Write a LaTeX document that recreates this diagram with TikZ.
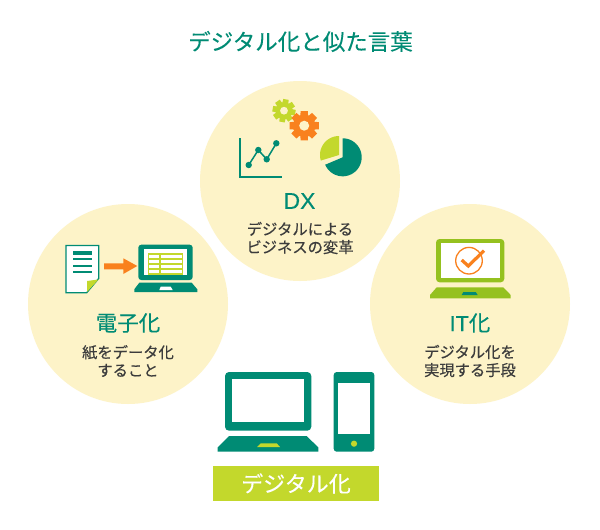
\documentclass[tikz,border=0pt]{standalone}
\usepackage{fontspec}
\setmainfont{Noto Sans CJK JP}
\newfontfamily\jpmed[FakeBold=0.45]{Noto Sans CJK JP}
\newfontfamily\jphead[FakeBold=0.2]{Noto Sans CJK JP}
\newfontfamily\latinhead[FakeBold=0.15]{Liberation Sans}
\definecolor{teal1}{HTML}{008B74}
\definecolor{lime1}{HTML}{C3D82C}
\definecolor{green1}{HTML}{95C11F}
\definecolor{orange1}{HTML}{F9811E}
\definecolor{cream1}{HTML}{FDF3C8}
\definecolor{text1}{HTML}{3C3C3C}
\newcommand{\gearicon}[8]{%
  \begin{scope}[shift={(#1,#2)}]
    \fill[#6] (0,0) circle[radius=#4pt];
    \foreach \k in {1,...,#7} {
      \pgfmathsetmacro{\a}{#8+360*\k/#7}
      \pgfmathsetmacro{\wi}{170/#7}
      \pgfmathsetmacro{\wo}{110/#7}
      \fill[#6] (\a-\wi:#4-0.5) -- (\a-\wo:#3) -- (\a+\wo:#3) -- (\a+\wi:#4-0.5) -- cycle;
    }
    \fill[cream1] (0,0) circle[radius=#5pt];
  \end{scope}}
\tikzset{
  x=1pt,y=-1pt,
  blob/.style={circle,fill=cream1,minimum size=200pt,inner sep=0pt},
  heading/.style={text=teal1,font=\fontsize{21.5}{24}\jphead,inner sep=0pt},
  small/.style={text=text1,font=\fontsize{15.3}{18}\jpmed,align=center,inner sep=0pt},
  title/.style={text=teal1,font=\fontsize{22.5}{26}\jphead,inner sep=0pt},
}
\begin{document}
\begin{tikzpicture}
\useasboundingbox[fill=white] (0,0) rectangle (600,530);
\node[blob] (top) at (300,181) {};
\node[blob] (left) at (128,304) {};
\node[blob] (right) at (470,304) {};
\node[title] (ttl) at (300.5,41.5) {デジタル化と似た言葉};
% top circle icons
\draw[teal1,line width=1.4pt] (240,138) -- (240,176.8) -- (282,176.8);
\draw[teal1,line width=1.5pt] (248.7,165) -- (258.3,150) -- (266.7,159.3) -- (276.3,143.3);
\foreach \p in {(248.7,165),(258.3,150),(266.7,159.3),(276.3,143.3)} \fill[teal1] \p circle[radius=3.2pt];
\gearicon{284}{110.7}{11.8}{8.6}{3.9}{lime1}{8}{10}
\gearicon{304.2}{125.7}{15}{11.2}{5}{orange1}{8}{0}
\fill[teal1] (342.7,157.3) -- plot[domain=90:-157,samples=50] ({342.7+19*cos(\x)},{157.3-19*sin(\x)}) -- cycle;
\fill[lime1] (339,155) -- plot[domain=90:197,samples=30] ({339+19*cos(\x)},{155-19*sin(\x)}) -- cycle;
\node[text=teal1,font=\fontsize{23}{26}\latinhead,inner sep=0pt] (dx) at (299.5,201) {DX};
\node[small] (dxt) at (300,238) {デジタルによる\\ビジネスの変革};
% left circle icons
\draw[teal1,fill=white,line width=1.3pt] (65.9,245.5) -- (98.8,245.5) -- (98.8,278.3) -- (86.7,292.7) -- (65.9,292.7) -- cycle;
\fill[lime1] (98.4,279.5) -- (87,292) -- (87,281) -- cycle;
\fill[teal1] (72.7,250.7) rectangle (92.3,255);
\foreach \yy in {259.3,265.7,272.3} \fill[teal1] (72.7,\yy-1) rectangle (92.3,\yy+1);
\fill[orange1] (104,263.3) -- (123.3,263.3) -- (123.3,258.3) -- (137.3,266) -- (123.3,274) -- (123.3,269.3) -- (104,269.3) -- cycle;
\fill[teal1,rounded corners=3pt] (138.3,244.7) rectangle (192.7,280);
\fill[white] (144,249) rectangle (186.7,275);
\draw[lime1,line width=1.1pt] (148.7,254) rectangle (182.7,274);
\foreach \yy in {259,264,269} \draw[lime1,line width=1.1pt] (148.7,\yy) -- (182.7,\yy);
\draw[lime1,line width=1.1pt] (160,254) -- (160,274);
\fill[teal1] (139.3,282.7) -- (191.7,282.7) -- (197.3,289.3) -- (197.3,292) -- (134.3,292) -- (134.3,289.3) -- cycle;
\fill[white] (160.7,286.7) -- (170.7,286.7) -- (172.7,290) -- (159.3,290) -- cycle;
\node[heading] (den) at (128,323) {電子化};
\node[small] (dent) at (128,361) {紙をデータ化\\すること};
% right circle icons
\fill[green1,rounded corners=3.5pt] (436,239) rectangle (504.3,282.3);
\fill[white] (440.7,243.3) rectangle (500,278.3);
\fill[green1] (436.7,287.3) -- (503.3,287.3) -- (510.7,295) -- (510.7,298.3) -- (430,298.3) -- (430,295) -- cycle;
\fill[teal1] (463.3,292) -- (475.7,292) -- (477.7,295) -- (461.7,295) -- cycle;
\draw[orange1,line width=1.3pt] (469,260.7) circle[radius=13.3pt];
\draw[orange1,line width=3.2pt] (461.7,260) -- (468.3,266) -- (484,250.7);
\node[heading] (it) at (470,323) {{\latinhead IT}化};
\node[small] (itt) at (470,361) {デジタル化を\\実現する手段};
% bottom devices
\fill[teal1,rounded corners=4pt] (225,372) rectangle (311.3,430.7);
\fill[white] (232.3,379.3) rectangle (303.7,421.7);
\fill[teal1] (229,436) -- (306.7,436) -- (318.3,447.5) -- (318.3,451.7) -- (217.7,451.7) -- (217.7,447.5) -- cycle;
\fill[lime1] (260.7,443.3) -- (276.7,443.3) -- (280,447) -- (257,447) -- cycle;
\fill[teal1,rounded corners=3pt] (333.7,372) rectangle (374.3,451.7);
\fill[white] (338,382.7) rectangle (370,434);
\fill[lime1] (354,443.7) circle[radius=3.1pt];
\node[fill=lime1,text=white,font=\fontsize{22}{26}\jphead,minimum width=166pt,minimum height=35pt,inner sep=0pt] (dig) at (296,483.5) {デジタル化};
\end{tikzpicture}
\end{document}
